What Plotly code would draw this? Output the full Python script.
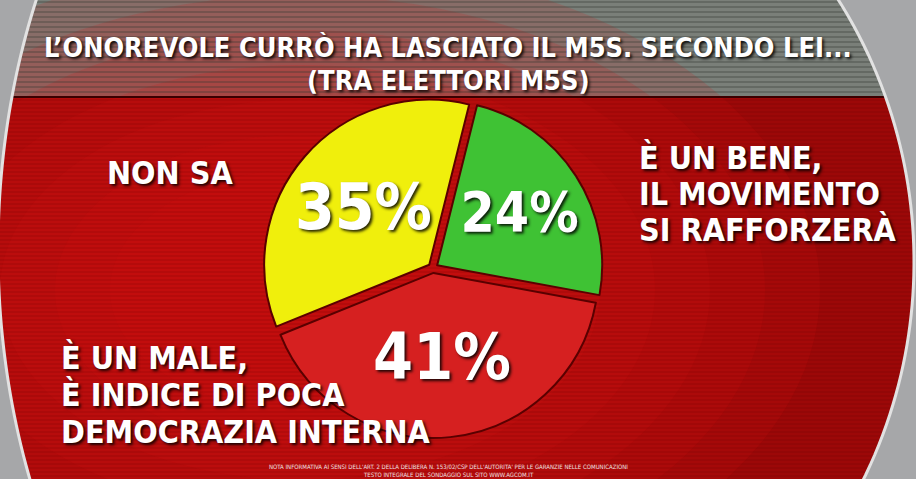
import math
import plotly.graph_objects as go

# ---- data ----
categories = ["È UN BENE, IL MOVIMENTO SI RAFFORZERÀ",
              "È UN MALE, È INDICE DI POCA DEMOCRAZIA INTERNA",
              "NON SA"]
values = [24, 41, 35]
slice_colors = ["#3fc234", "#d62020", "#f0ef0c"]
title_lines = ["L’ONOREVOLE CURRÒ HA LASCIATO IL M5S. SECONDO LEI...",
               "(TRA ELETTORI M5S)"]
label_green = ["È UN BENE,", "IL MOVIMENTO", "SI RAFFORZERÀ"]
label_red = ["È UN MALE,", "È INDICE DI POCA", "DEMOCRAZIA INTERNA"]
label_yellow = ["NON SA"]
footer_lines = ["NOTA INFORMATIVA AI SENSI DELL'ART. 2 DELLA DELIBERA N. 153/02/CSP DELL'AUTORITA' PER LE GARANZIE NELLE COMUNICAZIONI",
                "TESTO INTEGRALE DEL SONDAGGIO SUL SITO WWW.AGCOM.IT"]

W, H = 916, 479
FONT = "DejaVu Sans Condensed, DejaVu Sans, sans-serif"
SHADOW = "2px 2px 3px rgba(0,0,0,0.85)"


def px(x):
    return x / W


def py(y):
    return 1 - y / H


fig = go.Figure()

fig.add_trace(go.Pie(
    labels=categories,
    values=values,
    marker=dict(colors=slice_colors, line=dict(color="#5a0000", width=2)),
    sort=False,
    direction="clockwise",
    rotation=14,
    pull=[0.03, 0.03, 0.03],
    texttemplate="%{value}%",
    textposition="inside",
    insidetextorientation="horizontal",
    textfont=dict(family=FONT, size=64, color="white", weight=700, shadow=SHADOW),
    showlegend=False,
    hoverinfo="label+value",
    domain=dict(x=[px(263), px(603)], y=[py(438), py(98)]),
))

shapes = []
# red base below the grey band
shapes.append(dict(type="rect", xref="paper", yref="paper", x0=0, x1=1, y0=0, y1=py(97),
                   fillcolor="#9c0808", line=dict(width=0), layer="below"))
# brighter glow towards the left/centre
for k in range(7):
    rx = 520 - 55 * k
    ry = 330 - 35 * k
    gx, gy = 300, 290
    shapes.append(dict(type="circle", xref="paper", yref="paper",
                       x0=px(gx - rx), x1=px(gx + rx), y0=py(gy + ry), y1=py(gy - ry),
                       fillcolor="rgba(214,16,16,0.16)", line=dict(width=0), layer="below"))
# stripes in grey band
for i in range(0, 96, 5):
    shapes.append(dict(type="line", xref="paper", yref="paper", x0=0, x1=1,
                       y0=py(i + 2), y1=py(i + 2),
                       line=dict(color="rgba(50,55,50,0.3)", width=2), layer="below"))
# faint stripes in red area
for i in range(100, 479, 4):
    shapes.append(dict(type="line", xref="paper", yref="paper", x0=0, x1=1,
                       y0=py(i), y1=py(i),
                       line=dict(color="rgba(80,0,0,0.22)", width=1), layer="below"))
# separator under band
shapes.append(dict(type="line", xref="paper", yref="paper", x0=0, x1=1, y0=py(97), y1=py(97),
                   line=dict(color="#3a0000", width=2), layer="below"))


# outer grey frame: left and right regions bounded by elliptic arcs
def edge(side, y):
    if side == "L":
        cx, a, cy, b = 448, 450, 250, 620
        return cx - a * math.sqrt(max(0.0, 1 - ((y - cy) / b) ** 2))
    cx, a, cy, b = 448, 466, 262, 480
    return cx + a * math.sqrt(max(0.0, 1 - ((y - cy) / b) ** 2))


ys = list(range(-5, 486, 10))
for side in ("L", "R"):
    pts = [(edge(side, y), y) for y in ys]
    outer_x = -20 if side == "L" else W + 20
    path = f"M {px(outer_x)},{py(ys[0])} "
    path += " ".join(f"L {px(x)},{py(y)}" for x, y in pts)
    path += f" L {px(outer_x)},{py(ys[-1])} Z"
    shapes.append(dict(type="path", xref="paper", yref="paper", path=path,
                       fillcolor="#a6a7a9", line=dict(width=0), layer="below"))
    rim = "M " + " L ".join(f"{px(x)},{py(y)}" for x, y in pts)
    shapes.append(dict(type="path", xref="paper", yref="paper", path=rim,
                       line=dict(color="#e2e2e2", width=3), layer="below"))

annotations = []


def add_line(text, x, y, size, anchor="left"):
    annotations.append(dict(text=text, x=px(x), y=py(y), xref="paper", yref="paper",
                            xanchor=anchor, yanchor="middle", showarrow=False,
                            font=dict(family=FONT, size=size, color="white", weight=700,
                                      shadow=SHADOW)))


add_line(title_lines[0], 448, 48, 27, anchor="center")
add_line(title_lines[1], 448, 81, 27, anchor="center")
for i, t_ in enumerate(label_yellow):
    add_line(t_, 105, 173 + 37 * i, 32)
for i, t_ in enumerate(label_green):
    add_line(t_, 637, 158 + 36 * i, 32)
for i, t_ in enumerate(label_red):
    add_line(t_, 59, 358 + 37 * i, 32)
for i, t_ in enumerate(footer_lines):
    annotations.append(dict(text=t_, x=px(448), y=py(466 + 8 * i), xref="paper", yref="paper",
                            xanchor="center", yanchor="middle", showarrow=False,
                            font=dict(family=FONT, size=6, color="#f0e0e0")))

fig.update_layout(
    width=W, height=H,
    margin=dict(l=0, r=0, t=0, b=0),
    paper_bgcolor="#7a7f79",
    plot_bgcolor="rgba(0,0,0,0)",
    shapes=shapes,
    annotations=annotations,
    showlegend=False,
)

fig.write_html("out.html", config={"displayModeBar": False},
               post_script="document.body.style.margin='0';")
